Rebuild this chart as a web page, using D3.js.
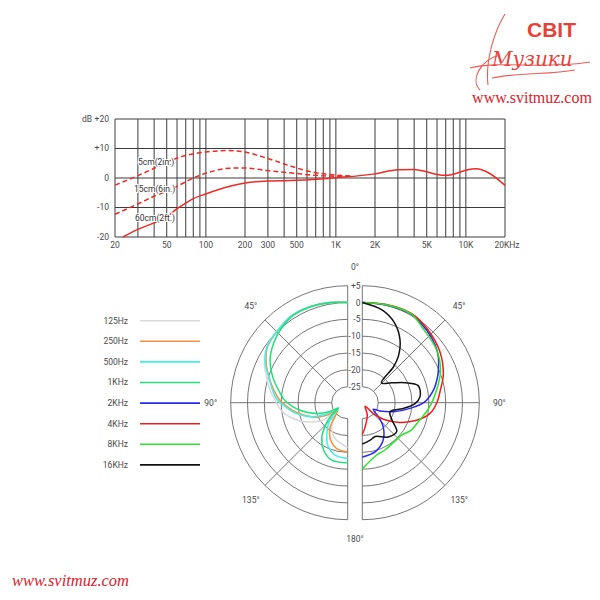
<!DOCTYPE html>
<html><head><meta charset="utf-8">
<script src="https://cdn.jsdelivr.net/npm/d3@7"></script>
<style>
html,body{margin:0;padding:0;background:#fff;}
svg{display:block;font-family:Roboto,"Open Sans",sans-serif;}
</style></head>
<body>
<svg id="chart" width="600" height="600"></svg>
<script>
// ---------- DATA ----------
// Frequency response (Hz, dB)
const curve5cm = [[20,-2.4],[25,-0.7],[30,0.8],[40,3.3],[50,5.4],[70,7.6],[100,8.8],[150,9.3],[200,8.8],[300,6.6],[500,3.4],[700,1.8],[1000,1.0],[1300,0.6]];
const curve15cm = [[20,-12.3],[30,-8.8],[40,-6.2],[50,-4.5],[70,-1.3],[80,0],[100,1.6],[150,3.3],[200,3.4],[300,2.5],[500,1.5],[700,0.9],[1000,0.6],[1300,0.6]];
const curve60cm = [[23,-20],[30,-17.4],[40,-15.2],[50,-13.2],[60,-10.4],[70,-8.5],[80,-7],[100,-5.4],[150,-2.9],[200,-1.7],[300,-1.0],[500,-0.8],[1000,0.1],[2000,1.4],[3000,2.8],[4000,2.9],[5000,2.1],[6000,1.2],[7000,0.9],[8000,1.3],[10000,2.6],[12000,3.1],[15000,1.7],[20000,-2.5]];
const curveNames = ["5cm(2in.)","15cm(6in.)","60cm(2ft.)"];
const freqTicks = [20,50,100,200,300,500,1000,2000,5000,10000,20000];
const freqTickLabels = ["20","50","100","200","300","500","1K","2K","5K","10K","20KHz"];
const dbTicks = [20,10,0,-10,-20];
const dbTickLabels = ["+20","+10","0","-10","-20"];

// Polar pattern (angle deg, dB)
const polarLabels = ["125Hz","250Hz","500Hz","1KHz","2KHz","4KHz","8KHz","16KHz"];
const polarColors = ["#d9d9d9","#f29040","#3ef0ec","#22e07c","#2a2af0","#f01c1c","#28e628","#111111"];
const p125 = [[0,0],[10,0.5],[21,0.9],[32,1.0],[42,0.3],[55,-0.5],[64,-2.2],[72,-4.4],[80,-6.2],[88,-8.2],[98,-10.2],[111,-14.6],[119,-18],[125,-20.5],[127,-25.5],[137,-23.5],[146,-21.2],[160,-18.5],[180,-16.5]];
const p250 = [[0,0],[10,0.5],[21,0.9],[32,1.0],[42,0.2],[55,-0.7],[64,-2.8],[72,-5.2],[80,-7.4],[88,-9.6],[100,-14],[110,-17.8],[116,-20],[121,-22.6],[123,-26.2],[138,-24.1],[144,-20.9],[154,-17.9],[166,-15.8],[180,-15.1]];
const p500 = [[0,0],[10,0.5],[21,0.9],[32,1.0],[42,0.3],[55,-0.6],[64,-2.5],[72,-5.1],[80,-7.0],[88,-8.9],[92,-10.6],[102,-14.2],[112,-18.7],[118,-22.5],[121,-26.5],[134,-22.4],[146,-18.7],[156,-15.5],[166,-13.8],[180,-13.2]];
const p1k = [[0,0],[10,0.4],[21,0.8],[32,0.8],[42,-0.2],[51,-1.5],[61,-3.4],[71,-6.2],[82,-9.5],[88,-11.1],[99,-15.4],[109,-20],[116,-23.6],[120,-26.6],[128,-23.5],[134,-21],[143,-17],[153,-14],[164,-12.1],[180,-11.9]];
const p2k = [[0,0],[15,0.1],[29,0.2],[42,-1.0],[52,-2.2],[59,-3.4],[66,-5],[71,-6.1],[80,-8.3],[89,-11.1],[96,-15],[105,-19.7],[115,-24],[121,-26],[131,-23.4],[139,-20.3],[151,-17],[165,-14.7],[180,-13.6]];
const p4k = [[0,0],[15,0.3],[29,0.5],[42,-0.6],[57,-2.2],[71,-4.3],[81,-6.3],[90,-7.6],[99,-9.4],[108,-12.8],[118,-17.3],[128,-21.8],[135,-25.2],[142,-28.4],[158,-25.8],[173,-22.6],[180,-20.3]];
const p8k = [[0,0],[15,0.2],[29,0.3],[38,-1.1],[55,-2.7],[68,-4.7],[80,-7.3],[94,-9.8],[109,-12.2],[120,-13.2],[129,-14.6],[138,-14.8],[154,-14.2],[165,-13.6],[180,-10.1]];
const p16k = [[0,0],[12,-1.6],[22,-4.2],[31,-8],[38,-12.4],[41,-15.6],[44,-21.6],[56,-19.2],[65,-15.7],[73,-12.4],[84,-12.5],[91,-14.1],[98,-17.5],[108,-21.1],[120,-19.6],[130,-16.4],[143,-17],[159,-19],[168,-18.4],[180,-17.5]];
const polarSeries = [p125,p250,p500,p1k,p2k,p4k,p8k,p16k];
const ringValues = [5,0,-5,-10,-15,-20,-25];
const ringLabels = ["+5","0","-5","-10","-15","-20","-25"];
const spokeAngles = [45,90,135];
const angleLabels = [[0,"0°"],[45,"45°"],[90,"90°"],[135,"135°"],[180,"180°"]];

// ---------- DRAW ----------
const svg = d3.select("#chart");
const grid = "#3c3c3c", txt = "#4a4a4a", red = "#ee2a24";
const fs = 8.5;

// Frequency response chart
const x = d3.scaleLog().domain([20,20000]).range([115,505]);
const y = d3.scaleLinear().domain([-20,20]).range([237,119]);
const fg = svg.append("g");
fg.selectAll("line.v").data(x.ticks()).join("line")
  .attr("x1",d=>x(d)).attr("x2",d=>x(d)).attr("y1",y(20)).attr("y2",y(-20))
  .attr("stroke",grid).attr("stroke-width",1);
fg.selectAll("line.h").data(dbTicks).join("line")
  .attr("x1",x(20)).attr("x2",x(20000)).attr("y1",d=>y(d)).attr("y2",d=>y(d))
  .attr("stroke",grid).attr("stroke-width",1);
fg.selectAll("text.yl").data(dbTicks).join("text")
  .attr("x",109).attr("y",d=>y(d)).attr("dy","0.35em").attr("text-anchor","end")
  .attr("font-size",fs).attr("fill",txt).text((d,i)=>dbTickLabels[i]);
fg.append("text").attr("x",82).attr("y",y(20)).attr("dy","0.35em")
  .attr("font-size",fs).attr("fill",txt).text("dB");
fg.selectAll("text.xl").data(freqTicks).join("text")
  .attr("x",(d,i)=>x(d)+(i===freqTicks.length-1?2:0)).attr("y",245).attr("dy","0.35em").attr("text-anchor","middle")
  .attr("font-size",fs).attr("fill",txt).text((d,i)=>freqTickLabels[i]);
const fline = d3.line().x(d=>x(d[0])).y(d=>y(d[1])).curve(d3.curveMonotoneX);
[[curve5cm,"5,3"],[curve15cm,"5,3"],[curve60cm,null]].forEach(([c,dash])=>{
  fg.append("path").attr("d",fline(c)).attr("fill","none").attr("stroke",red)
    .attr("stroke-width",1.5).attr("stroke-dasharray",dash);
});
const nameY = [162,189.5,218], nameX = [138,134,135];
curveNames.forEach((n,i)=>{
  fg.append("text").attr("x",nameX[i]).attr("y",nameY[i]).attr("dy","0.35em")
    .attr("font-size",fs).attr("fill","#333")
    .attr("stroke","#fff").attr("stroke-width",2).attr("paint-order","stroke").text(n);
});

// Polar chart
const cy = 402.7, cxL = 347.7, cxR = 362.3;
const r = d3.scaleLinear().domain([-25,5]).range([16,117]);
function drawHalf(cx, side){ // side -1 left, +1 right
  const g = svg.append("g").attr("transform",`translate(${cx},${cy})`);
  ringValues.forEach(v=>{
    const p = d3.path(); const rr = r(v);
    p.moveTo(0,-rr); p.arc(0,0,rr,-Math.PI/2,Math.PI/2,side<0);
    g.append("path").attr("d",p.toString()).attr("fill","none").attr("stroke","#666").attr("stroke-width",0.9);
  });
  const r0 = r(-25), r1 = r(5);
  [0,180].concat(spokeAngles).forEach(a=>{
    const t = a*Math.PI/180, sx = side*Math.sin(t), sy = -Math.cos(t);
    g.append("line").attr("x1",sx*r0).attr("y1",sy*r0).attr("x2",sx*r1).attr("y2",sy*r1)
      .attr("stroke","#666").attr("stroke-width",0.9);
  });
  angleLabels.filter(d=>d[0]>0&&d[0]<180).forEach(([a,l])=>{
    const t=a*Math.PI/180;
    g.append("text").attr("x",side*Math.sin(t)*137).attr("y",-Math.cos(t)*137).attr("dy","0.35em")
      .attr("text-anchor","middle").attr("font-size",fs).attr("fill",txt).text(l);
  });
  return g;
}
const gL = drawHalf(cxL,-1), gR = drawHalf(cxR,1);
// shared labels
const cmid = (cxL+cxR)/2;
ringValues.forEach((v,i)=>{
  svg.append("text").attr("x",360.5).attr("y",cy-r(v)).attr("dy","0.35em").attr("text-anchor","end")
    .attr("font-size",fs).attr("fill",txt).text(ringLabels[i]);
});
angleLabels.filter(d=>d[0]===0||d[0]===180).forEach(([a,l])=>{
  svg.append("text").attr("x",cmid).attr("y",a===0?cy-136:cy+136).attr("dy","0.35em")
    .attr("text-anchor","middle").attr("font-size",fs).attr("fill",txt).text(l);
});
polarSeries.forEach((s,i)=>{
  const side = i<4?-1:1, g = i<4?gL:gR;
  const lr = d3.lineRadial().angle(d=>side*d[0]*Math.PI/180).radius(d=>r(d[1])).curve(d3.curveCatmullRom.alpha(0.5));
  g.append("path").attr("d",lr(s)).attr("fill","none").attr("stroke",polarColors[i]).attr("stroke-width",1.5);
});

// Legend
polarLabels.forEach((l,i)=>{
  const yy = 320.7 + i*20.6;
  svg.append("text").attr("x",128).attr("y",yy).attr("dy","0.35em").attr("text-anchor","end")
    .attr("font-size",fs).attr("fill",txt).text(l);
  svg.append("line").attr("x1",140).attr("x2",200).attr("y1",yy).attr("y2",yy)
    .attr("stroke",polarColors[i]).attr("stroke-width",1.6);
});

// Logo / watermark
const lg = svg.append("g");
lg.append("text").attr("x",527).attr("y",37).attr("font-family","'Liberation Sans',Arial,sans-serif")
  .attr("font-weight","bold").attr("font-size",21).attr("fill","#e8413a").text("СВІТ");
lg.append("path").attr("d","M480,90 C470,80 480,60 500,55 M505,14 C495,30 485,60 488,85 M470,68 C500,60 540,70 590,62 M492,78 C520,72 550,75 575,70")
  .attr("fill","none").attr("stroke","#e8413a").attr("stroke-width",1.1).attr("opacity",0.85);
lg.append("text").attr("x",492).attr("y",66).attr("font-family","'DejaVu Serif',serif")
  .attr("font-style","italic").attr("font-size",20).attr("fill","#e8413a").text("Музики");
lg.append("text").attr("x",532).attr("y",103).attr("text-anchor","middle").attr("font-family","'Liberation Serif',serif")
  .attr("font-size",16).attr("fill","#e0202a").text("www.svitmuz.com");
svg.append("text").attr("x",12).attr("y",586).attr("font-family","'Liberation Serif',serif")
  .attr("font-style","italic").attr("font-size",16.5).attr("fill","#e0202a").text("www.svitmuz.com");
</script>
</body></html>
